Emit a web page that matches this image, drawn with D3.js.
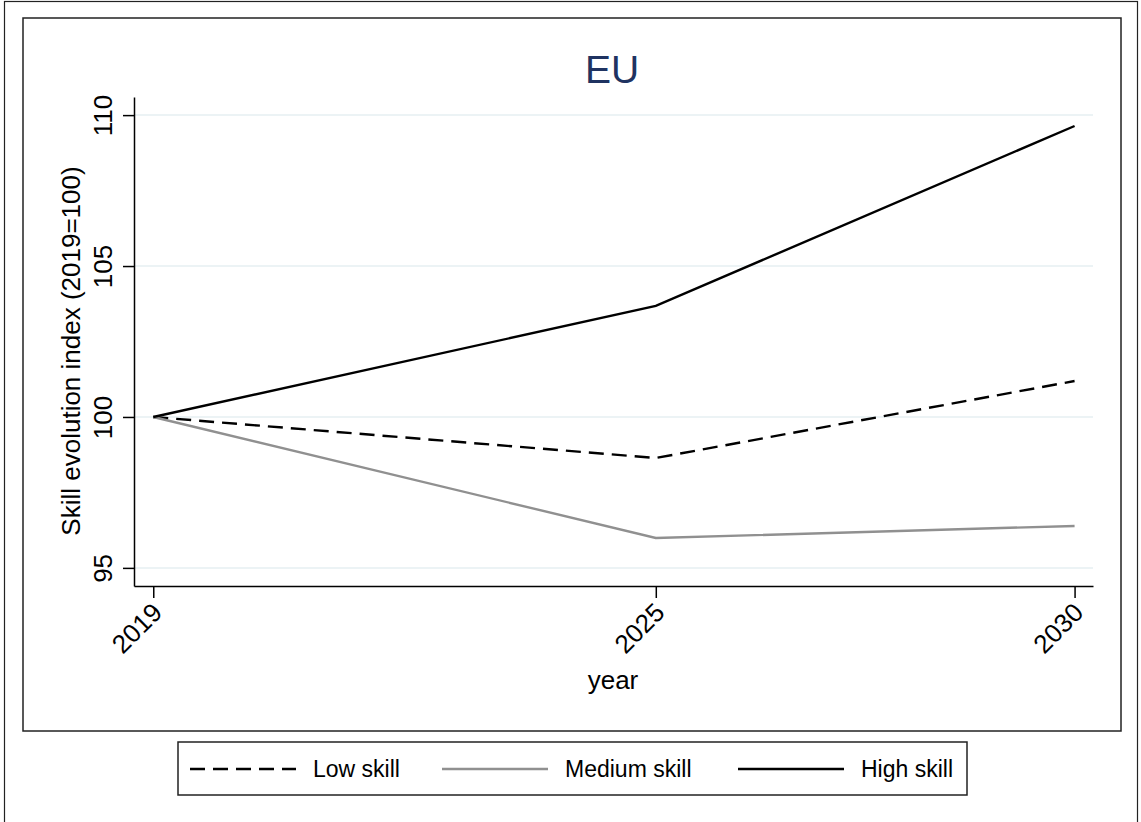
<!DOCTYPE html>
<html><head><meta charset="utf-8">
<script src="https://cdn.jsdelivr.net/npm/d3@7"></script>
<style>body{margin:0;background:#fff}svg{display:block;font-family:"Liberation Sans",Arial,sans-serif}</style>
</head><body><svg id="c" width="1141" height="822"></svg>
<script>
const years = [2019, 2025, 2030];
const lowSkill = [100, 98.64, 101.19];
const mediumSkill = [100, 95.99, 96.39];
const highSkill = [100, 103.68, 109.64];
const yTicks = [95, 100, 105, 110];
const seriesNames = ["Low skill", "Medium skill", "High skill"];
const title = "EU";
const yLabel = "Skill evolution index (2019=100)";
const xLabel = "year";

const svg = d3.select("#c");
svg.append("rect").attr("x",4.5).attr("y",1.5).attr("width",1133).attr("height",830).attr("fill","none").attr("stroke","#222").attr("stroke-width",1.2);
svg.append("rect").attr("x",23).attr("y",18).attr("width",1098).attr("height",713).attr("fill","#fff").attr("stroke","#222").attr("stroke-width",1.5);

const x = d3.scaleLinear().domain([2018.77, 2030.22]).range([134, 1093]);
const y = d3.scaleLinear().domain([94.4, 110.6]).range([586, 97]);

svg.append("g").selectAll("line").data(yTicks).join("line")
  .attr("x1",135).attr("x2",1093).attr("y1",d=>y(d)).attr("y2",d=>y(d))
  .attr("stroke","#e6eff2").attr("stroke-width",1.5);

const ya = svg.append("g").attr("transform","translate(134,0)")
  .call(d3.axisLeft(y).tickValues(yTicks).tickSize(11).tickSizeOuter(0).tickFormat(d3.format("d")));
ya.select(".domain").attr("stroke","#000").attr("stroke-width",1.5);
ya.selectAll(".tick line").attr("stroke","#000").attr("stroke-width",1.5);
ya.selectAll(".tick text").attr("font-size",26).attr("fill","#000")
  .attr("transform","rotate(-90)").attr("text-anchor","middle").attr("x",0).attr("y",-22).attr("dy","0");

const xa = svg.append("g").attr("transform","translate(0,586)")
  .call(d3.axisBottom(x).tickValues(years).tickSize(12).tickSizeOuter(0).tickFormat(d3.format("d")));
xa.select(".domain").attr("stroke","#000").attr("stroke-width",1.5);
xa.selectAll(".tick line").attr("stroke","#000").attr("stroke-width",1.5);
xa.selectAll(".tick text").attr("font-size",26).attr("fill","#000")
  .attr("text-anchor","end").attr("dy","0").attr("y",0)
  .attr("transform","translate(10,28) rotate(-45)");

const line = d3.line().x((d,i)=>x(years[i])).y(d=>y(d));
const styles = [
  {data: lowSkill, color:"#000", dash:"15,8"},
  {data: mediumSkill, color:"#909090", dash:null},
  {data: highSkill, color:"#000", dash:null}
];
styles.forEach(s=>{
  svg.append("path").datum(s.data).attr("d",line).attr("fill","none")
    .attr("stroke",s.color).attr("stroke-width",2.4)
    .attr("stroke-dasharray",s.dash);
});

svg.append("text").attr("x",612).attr("y",83).attr("text-anchor","middle")
  .attr("font-size",39).attr("fill","#1f3361").text(title);
svg.append("text").attr("transform","translate(80,351) rotate(-90)").attr("text-anchor","middle")
  .attr("font-size",26).attr("fill","#000").text(yLabel);
svg.append("text").attr("x",613).attr("y",689).attr("text-anchor","middle")
  .attr("font-size",26).attr("fill","#000").text(xLabel);

svg.append("rect").attr("x",178).attr("y",742).attr("width",789).attr("height",53)
  .attr("fill","#fff").attr("stroke","#222").attr("stroke-width",1.5);
const legX = [190, 442, 738];
const leg = svg.append("g").selectAll("g").data(styles).join("g")
  .attr("transform",(d,i)=>`translate(${legX[i]},769)`);
leg.append("line").attr("x1",0).attr("x2",106).attr("y1",0).attr("y2",0)
  .attr("stroke",d=>d.color).attr("stroke-width",2.4).attr("stroke-dasharray",d=>d.dash);
leg.append("text").attr("x",123).attr("y",8).attr("font-size",23).attr("fill","#000")
  .text((d,i)=>seriesNames[i]);
</script></body></html>
